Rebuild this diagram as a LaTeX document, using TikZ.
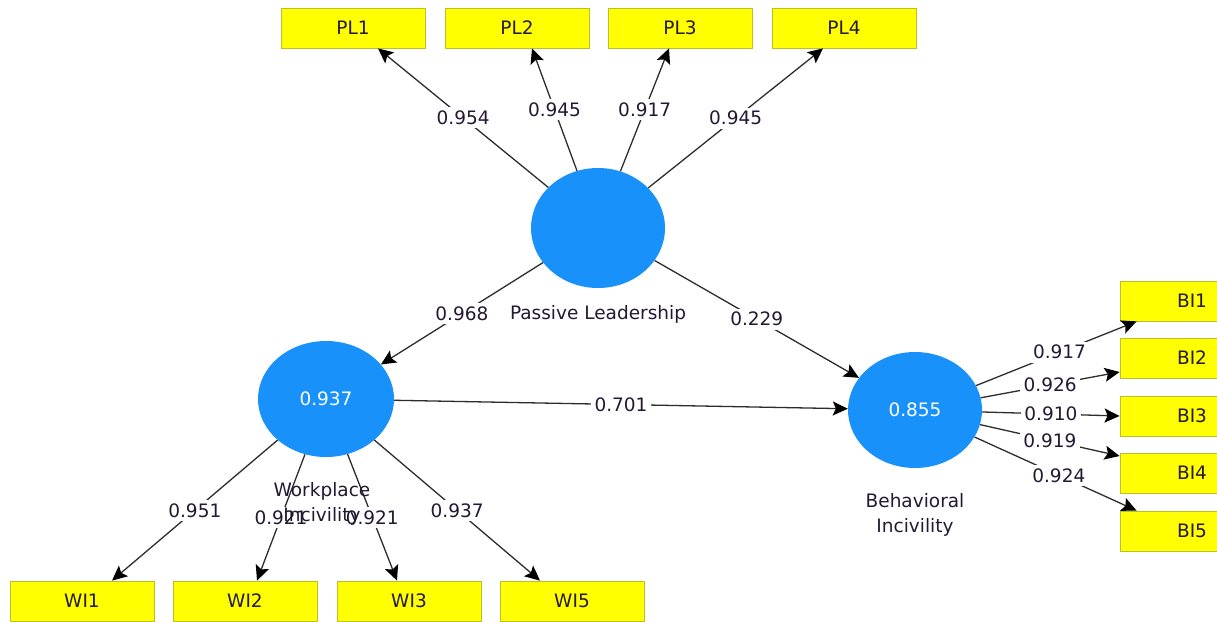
\documentclass[tikz,border=0pt]{standalone}
\usepackage{fontspec}
\setmainfont{DejaVu Sans}
\usetikzlibrary{shapes.geometric,arrows.meta,calc}
\definecolor{indfill}{RGB}{255,255,0}
\definecolor{indborder}{RGB}{190,190,40}
\definecolor{lvfill}{RGB}{25,145,250}
\definecolor{txt}{RGB}{35,25,50}
\definecolor{ln}{RGB}{45,45,45}
\begin{document}
\begin{tikzpicture}[x=1pt,y=-1pt,
  font=\fontsize{18.5}{25}\selectfont,
  indbox/.style={rectangle, draw=indborder, line width=0.8pt, fill=indfill, minimum width=144pt, minimum height=40pt, inner sep=0pt, text=txt},
  lvar/.style={ellipse, fill=lvfill, minimum width=134pt, minimum height=120pt, inner sep=0pt, text=white},
  conn/.style={draw=ln, line width=1.3pt, -{Stealth[length=15pt,width=14pt,inset=3pt,black]}},
  lbl/.style={fill=white, inner sep=3.5pt, text=txt},
  lvname/.style={text=txt, align=center, inner sep=0pt}]
\useasboundingbox[fill=white] (0,0) rectangle (1217,621);
% latent variables
\node[lvar] (PL) at (598,228) {};
\node[lvar, minimum width=136pt, minimum height=116pt] (WI) at (326,399) {0.937};
\node[lvar, minimum height=116pt] (BI) at (915,410) {0.855};
% indicators
\node[indbox] (PL1) at (353,28) {PL1};
\node[indbox] (PL2) at (517,28) {PL2};
\node[indbox] (PL3) at (680,28) {PL3};
\node[indbox] (PL4) at (844,28) {PL4};
\node[indbox] (WI1) at (82,601) {WI1};
\node[indbox] (WI2) at (245,601) {WI2};
\node[indbox] (WI3) at (409,601) {WI3};
\node[indbox] (WI5) at (572,601) {WI5};
\node[indbox] (BI1) at (1192,301) {BI1};
\node[indbox] (BI2) at (1192,358) {BI2};
\node[indbox] (BI3) at (1192,416) {BI3};
\node[indbox] (BI4) at (1192,473) {BI4};
\node[indbox] (BI5) at (1192,531) {BI5};
% outer loadings PL
\draw[conn] (PL) -- node[lbl]{0.954} ($(PL1.south)+(25,0)$);
\draw[conn] (PL) -- node[lbl]{0.945} ($(PL2.south)+(15,0)$);
\draw[conn] (PL) -- node[lbl]{0.917} ($(PL3.south)+(-11,0)$);
\draw[conn] (PL) -- node[lbl]{0.945} ($(PL4.south)+(-21,0)$);
% outer loadings WI
\draw[conn] (WI) -- node[lbl]{0.951} ($(WI1.north)+(30,0)$);
\draw[conn] (WI) -- node[lbl]{0.921} ($(WI2.north)+(12,0)$);
\draw[conn] (WI) -- node[lbl]{0.921} ($(WI3.north)+(-12,0)$);
\draw[conn] (WI) -- node[lbl]{0.937} ($(WI5.north)+(-32,0)$);
% outer loadings BI
\draw[conn] (BI) -- node[lbl, pos=0.52]{0.917} ($(BI1.south west)+(17,0)$);
\draw[conn] (BI) -- node[lbl]{0.926} ($(BI2.west)+(0,14)$);
\draw[conn] (BI) -- node[lbl]{0.910} (BI3.west);
\draw[conn] (BI) -- node[lbl]{0.919} ($(BI4.west)+(0,-17)$);
\draw[conn] (BI) -- node[lbl, pos=0.52]{0.924} ($(BI5.north west)+(17,0)$);
% path coefficients
\draw[conn] (PL) -- node[lbl]{0.968} (WI);
\draw[conn] (PL) -- node[lbl]{0.229} (BI);
\draw[conn] (WI) -- node[lbl]{0.701} (BI);
% construct names
\node[lvname] (PLname) at (598,314) {Passive Leadership};
\node[lvname] (WIname) at (322,504) {Workplace\\Incivility};
\node[lvname] (BIname) at (915,515) {Behavioral\\Incivility};
\end{tikzpicture}
\end{document}
